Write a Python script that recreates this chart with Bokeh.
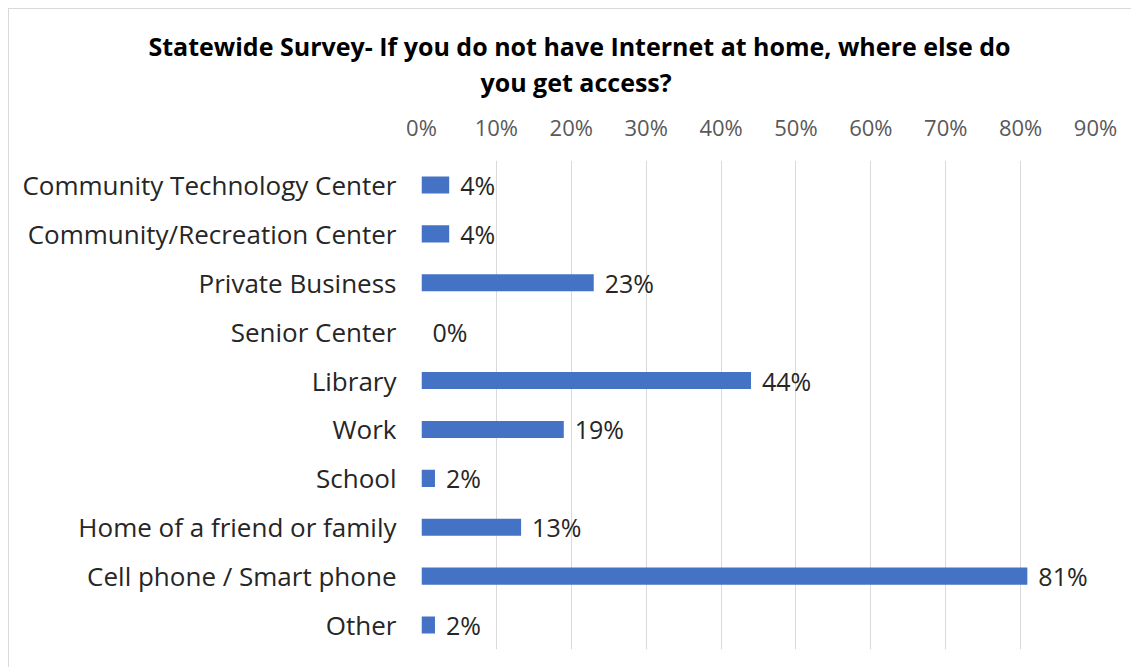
from bokeh.plotting import figure
from bokeh.models import ColumnDataSource, LinearAxis, FixedTicker, Title, Range1d, LabelSet, CustomJSTickFormatter
from bokeh.core.properties import value
from bokeh.embed import file_html
from bokeh.resources import INLINE

categories = ["Community Technology Center", "Community/Recreation Center", "Private Business",
              "Senior Center", "Library", "Work", "School", "Home of a friend or family",
              "Cell phone / Smart phone", "Other"]
values = [3.7, 3.7, 23.0, 0.0, 44.0, 19.0, 1.8, 13.3, 80.9, 1.8]
value_labels = ["4%", "4%", "23%", "0%", "44%", "19%", "2%", "13%", "81%", "2%"]
tick_values = [0, 10, 20, 30, 40, 50, 60, 70, 80, 90]
title_lines = ["Statewide Survey- If you do not have Internet at home, where else do", "you get access?"]

FONT = "Open Sans"

src = ColumnDataSource(dict(cat=categories, val=values, lab=value_labels))

p = figure(width=1123, height=659, y_range=list(reversed(categories)), x_range=Range1d(0, 90),
           output_backend="svg", toolbar_location=None, x_axis_location=None,
           min_border_left=412, min_border_right=37, min_border_top=151, min_border_bottom=19)
p.styles = {"margin-left": "8px", "margin-top": "8px",
            "border-left": "1px solid #d9d9d9", "border-top": "1px solid #d9d9d9"}
p.outline_line_color = None
p.hbar(y="cat", right="val", left=0, height=0.35, source=src, fill_color="#4472C4", line_color=None)

p.add_layout(LabelSet(x="val", y="cat", text="lab", source=src, x_offset=11,
                      text_baseline="middle", text_font=value(FONT), text_font_size="25px",
                      text_color="#262626"))

xa = LinearAxis(ticker=FixedTicker(ticks=tick_values))
xa.formatter = CustomJSTickFormatter(code="return tick + '%'")
xa.axis_line_color = None
xa.major_tick_line_color = None
xa.minor_tick_line_color = None
xa.major_label_standoff = 13
xa.major_label_text_font = FONT
xa.major_label_text_font_size = "22px"
xa.major_label_text_color = "#595959"
xa.axis_label = " "
xa.axis_label_text_font_size = "1px"
xa.axis_label_standoff = 6
p.add_layout(xa, "above")

ya = p.yaxis[0]
ya.axis_line_color = None
ya.major_tick_line_color = None
ya.minor_tick_line_color = None
ya.major_label_standoff = 19
ya.major_label_text_font = FONT
ya.major_label_text_font_size = "26px"
ya.major_label_text_color = "#262626"

p.ygrid.grid_line_color = None
p.xgrid.ticker = FixedTicker(ticks=tick_values)
p.xgrid.grid_line_color = "#d9d9d9"
p.xgrid.grid_line_width = 1

for t, off, sd in [(title_lines[1], 59, 0), (title_lines[0], -273, 0)]:
    p.add_layout(Title(text=t, align="left", offset=off, standoff=sd, text_font=FONT,
                       text_font_style="bold", text_font_size="25px", text_color="#000000"), "above")

open("out.html", "w").write(file_html(p, INLINE))
